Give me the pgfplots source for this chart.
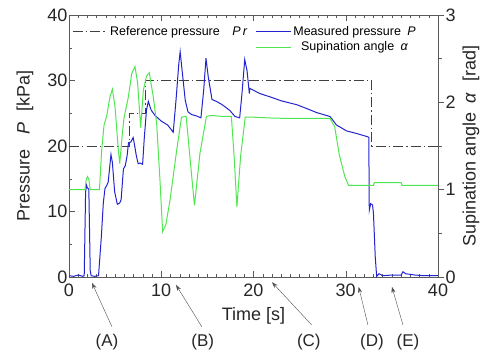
\documentclass[border=0pt]{standalone}
\usepackage{fontspec}
\setmainfont{Liberation Sans}
\usepackage{pgfplots}
\pgfplotsset{compat=1.18}
\usetikzlibrary{arrows.meta,calc}
\definecolor{mblue}{RGB}{35,35,205}
\definecolor{mgreen}{RGB}{80,230,80}
\definecolor{axgray}{RGB}{90,90,90}
\begin{document}
\begin{tikzpicture}
\pgfplotsset{
  common/.style={
    scale only axis, width=369pt, height=262pt,
    xmin=0, xmax=40,
    /pgf/number format/assume math mode=true,
    tick label style={font=\fontsize{18}{20}\selectfont, text=black!85},
    label style={font=\fontsize{18}{20}\selectfont, text=black!85},
    axis line style={axgray},
    every tick/.style={axgray},
    major tick length=6pt, minor tick length=3.5pt,
  }
}
\begin{axis}[common, name=ax, clip=false,
  ymin=0, ymax=40,
  xtick={0,10,20,30,40}, minor x tick num=9,
  ytick={0,10,20,30,40}, minor y tick num=1,
  tick align=inside, xtick pos=both, ytick pos=left,
  yticklabel style={inner xsep=1.5pt},
  xticklabel style={yshift=-3pt},
  xlabel={Time [s]},
  xlabel style={at={(axis description cs:0.5,0)}, anchor=center, yshift=-39pt},
  ylabel={Pressure\hspace{0.8em}\textit{P}\hspace{0.6em}[kPa]},
  ylabel style={at={(axis description cs:0,0.5)}, anchor=center, rotate=0, yshift=44pt},
  legend columns=2,
  legend style={at={(rel axis cs:0,1)}, anchor=north west, xshift=3pt, yshift=-9pt,
    draw=none, fill=none, inner sep=0pt,
    font=\fontsize{12.5}{14}\selectfont,
    row sep=1pt,
    /tikz/every even column/.append style={column sep=6pt}},
  legend image code/.code={\draw[#1] (0pt,0pt) -- (35pt,0pt);},
]
\addplot[black!75, line width=0.9pt, dash pattern=on 10pt off 3pt on 1.5pt off 3pt] coordinates {
(0,20) (6.5,20) (6.5,25) (8.3,25) (8.3,30) (32.8,30) (32.8,20) (40,20)};
\addlegendentry{Reference pressure\quad\textit{P\,r}}
\addplot[mblue, line width=1pt] coordinates {
(0,0.2) (0.5,0.1) (1.0,0.3) (1.5,0.1) (1.65,0.2) (1.8,13.0) (1.9,14.0) (2.0,13.6) (2.15,13.4)
(2.3,1.0) (2.4,0.2) (2.8,0.1) (3.2,0.2) (3.5,6) (3.72,11.3) (3.9,13.5) (4.1,14.0) (4.25,14.5)
(4.55,18.7) (4.7,17.5) (4.95,13) (5.24,11.1) (5.5,11.3) (5.65,11.8) (5.9,16.5) (6.1,17.0)
(6.3,18.5) (6.45,20.5) (6.7,20.6) (6.95,21.3) (7.1,20.2) (7.3,18.5) (7.5,17.3) (7.7,17.4)
(7.98,17.2) (8.15,21) (8.4,25.5) (8.6,26.8) (8.9,25.5) (9.3,24.7) (10.0,23.8) (10.7,23.2)
(11.3,22.1) (11.6,27) (11.9,32.5) (12.05,34.4) (12.3,31) (12.6,27) (12.9,25.2) (13.3,24.8)
(13.8,24.6) (14.3,24.3) (14.6,28.5) (14.85,33.4) (15.1,30.5) (15.5,27.1) (16.0,26.8)
(16.5,26.4) (17.0,25.9) (17.45,25.4) (18.0,24.5) (18.5,24.3) (18.75,28) (19.05,33.2)
(19.3,31.5) (19.55,28.0) (19.6,28.8) (20.7,28.0) (21.8,27.5) (23.0,26.9) (24.7,26.3)
(25.8,25.7) (26.85,25.1) (28.3,24.5) (29.0,23.2) (30.1,22.3) (31.2,21.9) (32.4,21.4)
(32.5,21.3) (32.55,10.2) (32.7,11.2) (32.9,11.0) (33.0,9.8) (33.2,3) (33.35,0.1) (33.6,0.5)
(34,0.2) (35,0.3) (36.0,0.3) (36.2,0.8) (36.5,0.5) (37.5,0.3) (38.5,0.2) (40,0.2)};
\addlegendentry{Measured pressure\enspace\textit{P}}
\addlegendimage{empty legend}
\addlegendentry{}
\addlegendimage{mgreen, line width=1pt}
\addlegendentry{Supination angle\enspace\textit{α}}
% annotations
\begin{scope}[font=\fontsize{17}{20}\selectfont]
\draw[black!70, -{Stealth[length=6pt,width=4pt]}] (axis cs:4.66,-7.6) -- (axis cs:2.49,-0.9);
\node[text=black!85] at (axis cs:4.12,-9.9) {(A)};
\draw[black!70, -{Stealth[length=6pt,width=4pt]}] (axis cs:14.4,-7.6) -- (axis cs:11.6,-1.2);
\node[text=black!85] at (axis cs:14.5,-9.9) {(B)};
\draw[black!70, -{Stealth[length=6pt,width=4pt]}] (axis cs:26.3,-7.3) -- (axis cs:22.0,-0.8);
\node[text=black!85] at (axis cs:26.0,-9.9) {(C)};
\draw[black!70, -{Stealth[length=6pt,width=4pt]}] (axis cs:32.4,-7.3) -- (axis cs:31.4,-1.5);
\node[text=black!85] at (axis cs:32.85,-9.9) {(D)};
\draw[black!70, -{Stealth[length=6pt,width=4pt]}] (axis cs:36.2,-7.3) -- (axis cs:35.0,-1.5);
\node[text=black!85] at (axis cs:36.75,-9.9) {(E)};
\end{scope}
\end{axis}
\begin{axis}[common, at={(ax.south west)}, anchor=south west,
  ymin=0, ymax=3,
  axis x line=none, axis y line*=right,
  ytick={0,1,2,3}, minor y tick num=1, tick align=outside,
  yticklabel style={inner xsep=1.5pt},
  ylabel={Supination angle\hspace{0.5em}\textit{α}\hspace{0.6em}[rad]},
  ylabel style={at={(axis description cs:1,0.5)}, anchor=center, rotate=0, yshift=-33pt},
]
\addplot[mgreen, line width=1pt] coordinates {
(0,1.0) (1.73,1.0) (1.85,1.1) (2.0,1.15) (2.15,1.12) (2.3,1.0) (3.3,1.0) (3.54,1.45) (3.8,1.74)
(4.08,1.84) (4.44,2.06) (4.7,2.15) (4.99,1.95) (5.35,1.45) (5.5,1.30) (5.78,1.64) (5.96,1.82)
(6.43,2.06) (6.8,2.33) (7.15,2.41) (7.44,2.22) (7.77,1.71) (8.06,2.14) (8.4,2.3) (8.7,2.34)
(9.14,2.06) (9.5,1.76) (9.86,1.11) (10.15,0.52) (10.5,0.6) (10.95,0.88) (11.67,1.45)
(12.2,1.83) (12.7,1.84) (13.1,1.38) (13.6,0.82) (14.2,1.42) (14.9,1.84) (15.5,1.85)
(16.5,1.84) (17.6,1.84) (17.9,1.38) (18.2,0.80) (18.6,1.38) (19.1,1.83) (20,1.83) (22,1.82)
(24,1.815) (26,1.815) (28.3,1.815) (28.8,1.72) (29.3,1.4) (29.9,1.15) (30.3,1.05) (33.0,1.05)
(33.1,1.08) (36.0,1.08) (36.1,1.05) (40,1.05)};
\end{axis}
\pgfresetboundingbox
\useasboundingbox ($(ax.south west)+(-69pt,-79pt)$) rectangle ($(ax.north east)+(45pt,15pt)$);
\end{tikzpicture}
\end{document}
